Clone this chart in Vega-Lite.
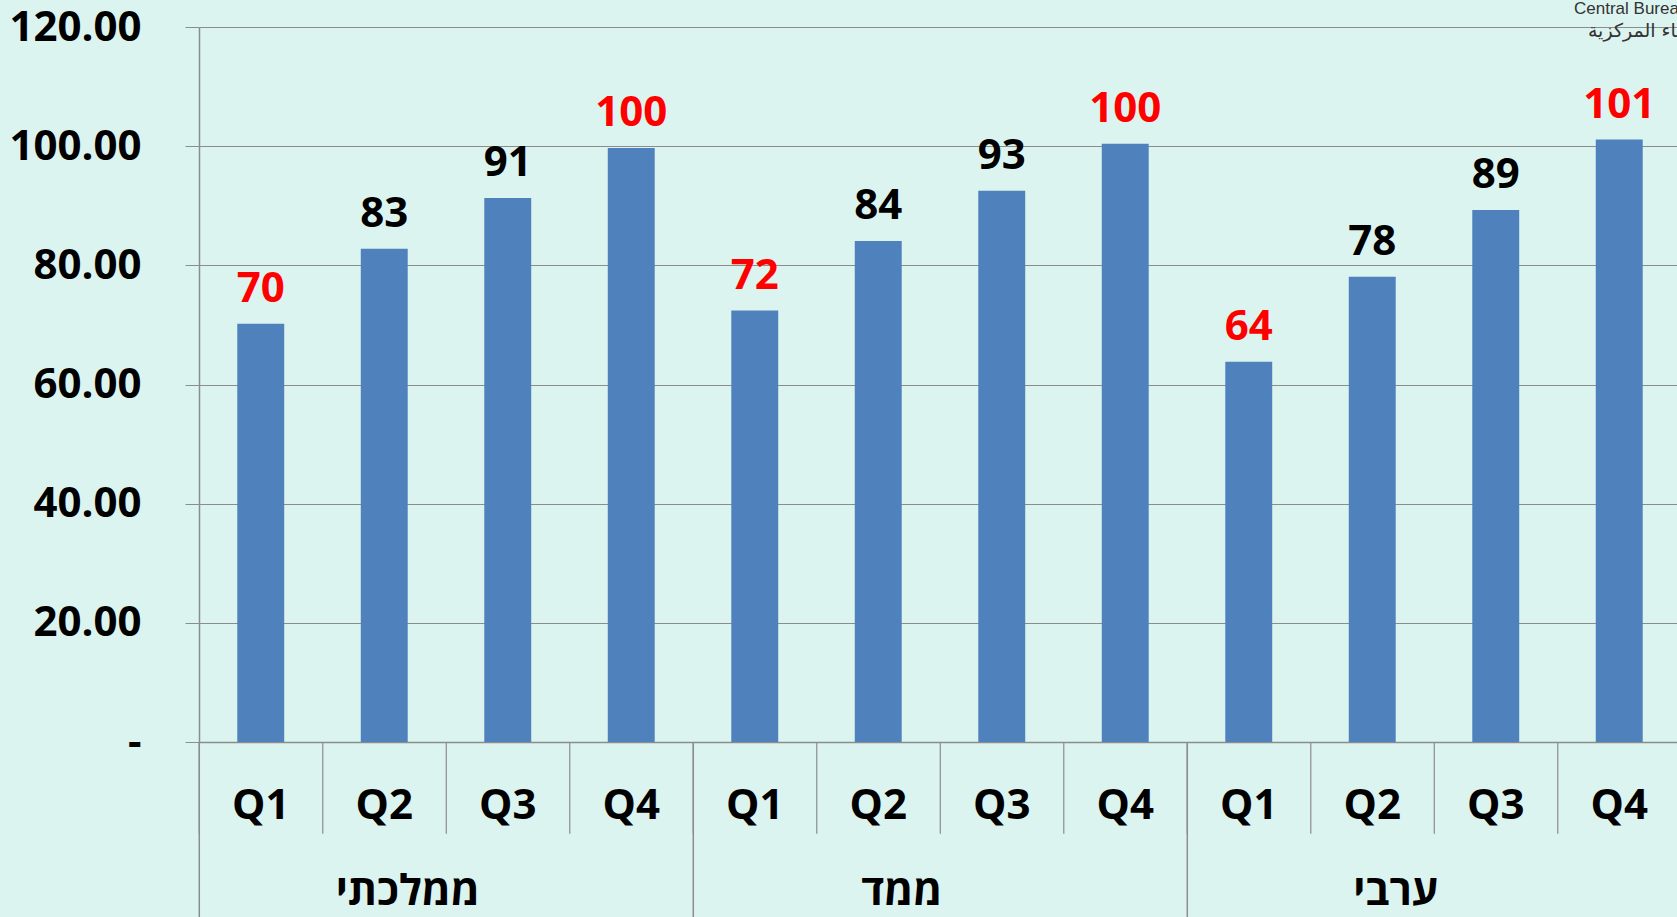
{
  "$schema": "https://vega.github.io/schema/vega-lite/v6.json",
  "width": 1482,
  "height": 715,
  "padding": {"left": 8, "top": 0, "right": 0, "bottom": 0},
  "background": "#DCF4EF",
  "config": {"view": {"stroke": null}},
  "title": {
    "text": "Central Bureau of Statistics",
    "subtitle": "دائرة الإحصاء المركزية",
    "anchor": "middle",
    "frame": "group",
    "dx": 737,
    "offset": -36,
    "font": "Liberation Sans",
    "fontSize": 17,
    "fontWeight": "normal",
    "color": "#333333",
    "subtitleFont": "DejaVu Sans",
    "subtitleFontSize": 19,
    "subtitleColor": "#333333",
    "subtitlePadding": 4
  },
  "data": {
    "values": [
      {"group": "ממלכתי", "q": "Q1", "key": "G1Q1", "amount": 70.2},
      {"group": "ממלכתי", "q": "Q2", "key": "G1Q2", "amount": 82.8},
      {"group": "ממלכתי", "q": "Q3", "key": "G1Q3", "amount": 91.3},
      {"group": "ממלכתי", "q": "Q4", "key": "G1Q4", "amount": 99.7},
      {"group": "ממד", "q": "Q1", "key": "G2Q1", "amount": 72.4},
      {"group": "ממד", "q": "Q2", "key": "G2Q2", "amount": 84.1},
      {"group": "ממד", "q": "Q3", "key": "G2Q3", "amount": 92.5},
      {"group": "ממד", "q": "Q4", "key": "G2Q4", "amount": 100.4},
      {"group": "ערבי", "q": "Q1", "key": "G3Q1", "amount": 63.8},
      {"group": "ערבי", "q": "Q2", "key": "G3Q2", "amount": 78.1},
      {"group": "ערבי", "q": "Q3", "key": "G3Q3", "amount": 89.3},
      {"group": "ערבי", "q": "Q4", "key": "G3Q4", "amount": 101.1}
    ]
  },
  "encoding": {
    "x": {
      "field": "key",
      "type": "nominal",
      "scale": {"paddingInner": 0.62, "paddingOuter": 0.31},
      "axis": {
        "title": null,
        "labelExpr": "slice(datum.value, 2)",
        "ticks": false,
        "domainColor": "#8C8C8C",
        "domainWidth": 1.5,
        "labelAngle": 0,
        "labelFont": "Open Sans",
        "labelFontSize": 42,
        "labelFontWeight": "bold",
        "labelColor": "#000000",
        "labelPadding": 43
      }
    },
    "y": {
      "field": "amount",
      "type": "quantitative",
      "scale": {"domain": [0, 120], "nice": false},
      "axis": {
        "title": null,
        "values": [0, 20, 40, 60, 80, 100, 120],
        "labelExpr": "datum.value == 0 ? '-  ' : format(datum.value, '.2f')",
        "tickSize": 14,
        "tickColor": "#8C8C8C",
        "domainColor": "#8C8C8C",
        "domainWidth": 1.5,
        "grid": true,
        "gridColor": "#8C8C8C",
        "gridWidth": 1.2,
        "labelPadding": 44,
        "labelFont": "Open Sans",
        "labelFontSize": 42,
        "labelFontWeight": "bold",
        "labelColor": "#000000"
      }
    }
  },
  "layer": [
    {"mark": {"type": "bar", "color": "#4F81BD"}},
    {
      "mark": {
        "type": "text",
        "font": "Open Sans",
        "fontSize": 42,
        "fontWeight": "bold",
        "baseline": "alphabetic",
        "dy": -22
      },
      "encoding": {
        "text": {"field": "amount", "type": "quantitative", "format": ".0f"},
        "color": {
          "condition": {"test": "datum.q === 'Q1' || datum.q === 'Q4'", "value": "#FF0000"},
          "value": "#000000"
        }
      }
    },
    {
      "mark": {"type": "rule", "color": "#8C8C8C", "strokeWidth": 1.2, "xOffset": -38},
      "encoding": {
        "x": {"field": "key", "type": "nominal", "bandPosition": 0},
        "y": {"datum": 0},
        "y2": {"datum": -15.4}
      }
    },
    {
      "transform": [{"filter": "datum.q === 'Q1'"}],
      "mark": {"type": "rule", "color": "#8C8C8C", "strokeWidth": 1.5, "xOffset": -38},
      "encoding": {
        "x": {"field": "key", "type": "nominal", "bandPosition": 0},
        "y": {"datum": 0},
        "y2": {"datum": -30}
      }
    },
    {
      "transform": [{"filter": "datum.q === 'Q2'"}],
      "mark": {
        "type": "text",
        "font": "Open Sans",
        "fontSize": 42,
        "fontWeight": "bold",
        "baseline": "alphabetic",
        "color": "#000000"
      },
      "encoding": {
        "x": {"field": "key", "type": "nominal", "bandPosition": 1},
        "y": {"datum": -27.4},
        "text": {"field": "group", "type": "nominal"}
      }
    }
  ]
}
